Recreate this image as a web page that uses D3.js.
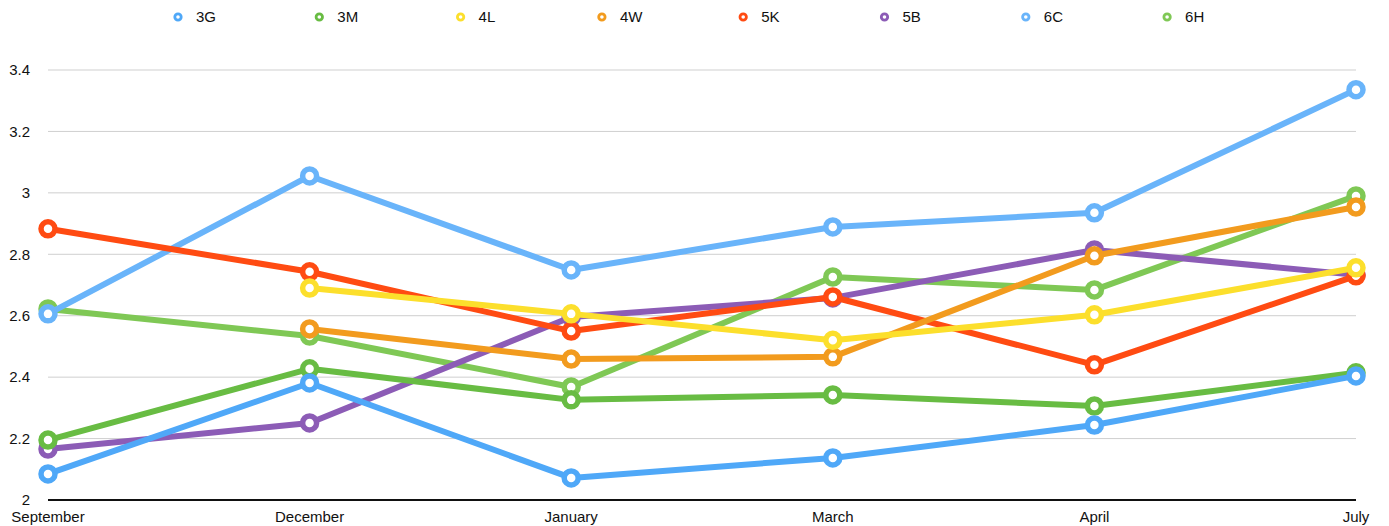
<!DOCTYPE html>
<html>
<head>
<meta charset="utf-8">
<script src="https://d3js.org/d3.v7.min.js"></script>
<style>
  body { margin: 0; background: #fff; }
  text { font-family: "Liberation Sans", Arial, Helvetica, sans-serif; fill: #111; }
</style>
</head>
<body>
<svg id="chart" width="1389" height="526"></svg>
<script>
// months along the x axis
var months = ["September", "December", "January", "March", "April", "July"];
var yTicks = [2, 2.2, 2.4, 2.6, 2.8, 3, 3.2, 3.4];

var classNames = ["3G", "3M", "4L", "4W", "5K", "5B", "6C", "6H"];
var classColors = ["#4fa8f8", "#68bc43", "#fcdf2c", "#f29b1e", "#ff4b12", "#8c5cb6", "#69b4fa", "#7fc855"];

var v3G = [2.085, 2.381, 2.072, 2.137, 2.244, 2.404];
var v3M = [2.195, 2.427, 2.326, 2.342, 2.306, 2.414];
var v4L = [null, 2.690, 2.606, 2.520, 2.603, 2.756];
var v4W = [null, 2.557, 2.459, 2.466, 2.795, 2.954];
var v5K = [2.883, 2.743, 2.550, 2.661, 2.440, 2.730];
var v5B = [2.166, 2.251, 2.596, 2.658, 2.814, 2.733];
var v6C = [2.606, 3.055, 2.749, 2.889, 2.935, 3.336];
var v6H = [2.622, 2.534, 2.368, 2.726, 2.684, 2.990];

var allValues = [v3G, v3M, v4L, v4W, v5K, v5B, v6C, v6H];

var svg = d3.select("#chart");

var x = d3.scalePoint()
  .domain(months)
  .range([48, 1356]);

var y = d3.scaleLinear()
  .domain([2, 3.4])
  .range([500, 70]);

// gridlines
svg.append("g")
  .selectAll("line")
  .data(yTicks.slice(1))
  .enter()
  .append("line")
  .attr("x1", 48)
  .attr("x2", 1356)
  .attr("y1", function(d){ return y(d); })
  .attr("y2", function(d){ return y(d); })
  .attr("stroke", "#cfcfcf")
  .attr("stroke-width", 1);

// y labels
svg.append("g")
  .selectAll("text")
  .data(yTicks)
  .enter()
  .append("text")
  .attr("x", 30)
  .attr("y", function(d){ return y(d); })
  .attr("dy", "0.35em")
  .attr("text-anchor", "end")
  .style("font-size", "15px")
  .text(function(d){ return d3.format("~g")(d); });

// x axis baseline
svg.append("line")
  .attr("x1", 48)
  .attr("x2", 1356)
  .attr("y1", y(2))
  .attr("y2", y(2))
  .attr("stroke", "#111")
  .attr("stroke-width", 2);

svg.append("g")
  .selectAll("text")
  .data(months)
  .enter()
  .append("text")
  .attr("x", function(d){ return x(d); })
  .attr("y", 522)
  .attr("text-anchor", "middle")
  .style("font-size", "15px")
  .text(function(d){ return d; });

// series, drawn last-to-first so the first class ends up on top
var line = d3.line()
  .defined(function(d){ return d.v != null; })
  .x(function(d){ return x(d.m); })
  .y(function(d){ return y(d.v); });

var series = classNames.map(function(name, i){
  return {
    name: name,
    color: classColors[i],
    points: months.map(function(m, j){ return { m: m, v: allValues[i][j] }; })
  };
});

var groups = svg.append("g")
  .selectAll("g")
  .data(series.slice().reverse())
  .enter()
  .append("g");

groups.append("path")
  .attr("d", function(d){ return line(d.points); })
  .attr("fill", "none")
  .attr("stroke", function(d){ return d.color; })
  .attr("stroke-width", 6)
  .attr("stroke-linejoin", "round");

groups.selectAll("circle")
  .data(function(d){
    return d.points.filter(function(p){ return p.v != null; })
      .map(function(p){ return { m: p.m, v: p.v, color: d.color }; });
  })
  .enter()
  .append("circle")
  .attr("cx", function(d){ return x(d.m); })
  .attr("cy", function(d){ return y(d.v); })
  .attr("r", 7)
  .attr("fill", "#fff")
  .attr("stroke", function(d){ return d.color; })
  .attr("stroke-width", 5.5);

// legend
var legend = svg.append("g")
  .selectAll("g")
  .data(series)
  .enter()
  .append("g")
  .attr("transform", function(d, i){ return "translate(" + (178 + i * 141.3) + ",17)"; });

legend.append("circle")
  .attr("r", 3.2)
  .attr("fill", "#fff")
  .attr("stroke", function(d){ return d.color; })
  .attr("stroke-width", 2.8);

legend.append("text")
  .attr("x", 18)
  .attr("dy", "0.35em")
  .style("font-size", "15px")
  .text(function(d){ return d.name; });
</script>
</body>
</html>
